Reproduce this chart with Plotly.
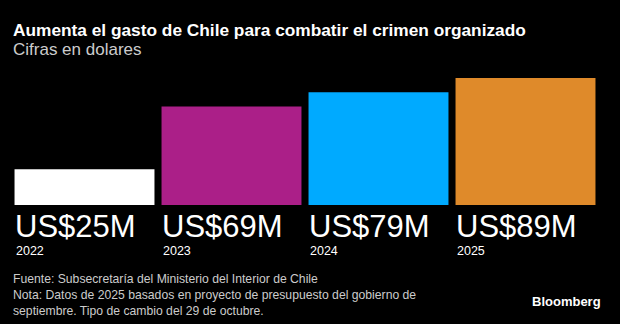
import plotly.graph_objects as go

years = ["2022", "2023", "2024", "2025"]
values = [25, 69, 79, 89]
labels = ["US$25M", "US$69M", "US$79M", "US$89M"]
colors = ["#ffffff", "#ab1f88", "#00aaff", "#df8a2a"]

title = "Aumenta el gasto de Chile para combatir el crimen organizado"
subtitle = "Cifras en dolares"
footer = ("Fuente: Subsecretaría del Ministerio del Interior de Chile<br>"
          "Nota: Datos de 2025 basados en proyecto de presupuesto del gobierno de<br>"
          "septiembre. Tipo de cambio del 29 de octubre.")

W, H = 620, 324
ml, mr, mt, mb = 10.5, 20.5, 78, 119
bargap = 0.048
FONT = "Liberation Sans, Arial, sans-serif"

fig = go.Figure(go.Bar(x=list(range(len(years))), y=values,
                       marker=dict(color=colors, line=dict(width=0)),
                       hoverinfo="skip"))


def paper_x(px):
    return (px - ml) / (W - ml - mr)


def paper_y(py):
    return (H - mb - py) / (H - mt - mb)


ann = []
for i, (yr, lab) in enumerate(zip(years, labels)):
    x0 = i - 0.5 + bargap / 2
    ann.append(dict(x=x0, y=0, xref="x", yref="y", xanchor="left", yanchor="top",
                    text=lab, showarrow=False, xshift=-2, yshift=-2,
                    font=dict(family=FONT, size=31, color="#ffffff")))
    ann.append(dict(x=x0, y=0, xref="x", yref="y", xanchor="left", yanchor="top",
                    text=yr, showarrow=False, xshift=-1, yshift=-37,
                    font=dict(family=FONT, size=12.5, color="#ffffff")))

ann.append(dict(x=paper_x(11), y=paper_y(18), xref="paper", yref="paper", xanchor="left", yanchor="top",
                text="<b>" + title + "</b>", showarrow=False,
                font=dict(family=FONT, size=17.3, color="#ffffff")))
ann.append(dict(x=paper_x(11), y=paper_y(38), xref="paper", yref="paper", xanchor="left", yanchor="top",
                text=subtitle, showarrow=False,
                font=dict(family=FONT, size=17, color="#cccccc")))
ann.append(dict(x=paper_x(11), y=paper_y(270), xref="paper", yref="paper", xanchor="left", yanchor="top",
                text=footer, showarrow=False, align="left",
                font=dict(family=FONT, size=12.2, color="#cccccc")))
ann.append(dict(x=paper_x(604), y=paper_y(292), xref="paper", yref="paper", xanchor="right", yanchor="top",
                text="<b>Bloomberg</b>", showarrow=False,
                font=dict(family=FONT, size=13, color="#ffffff")))

fig.update_layout(
    width=W, height=H,
    margin=dict(l=ml, r=mr, t=mt, b=mb),
    paper_bgcolor="#000000", plot_bgcolor="#000000",
    bargap=bargap, showlegend=False,
    xaxis=dict(range=[-0.5, 3.5], visible=False, fixedrange=True),
    yaxis=dict(range=[0, 89], visible=False, fixedrange=True),
    annotations=ann,
)

fig.write_html("out.html")
